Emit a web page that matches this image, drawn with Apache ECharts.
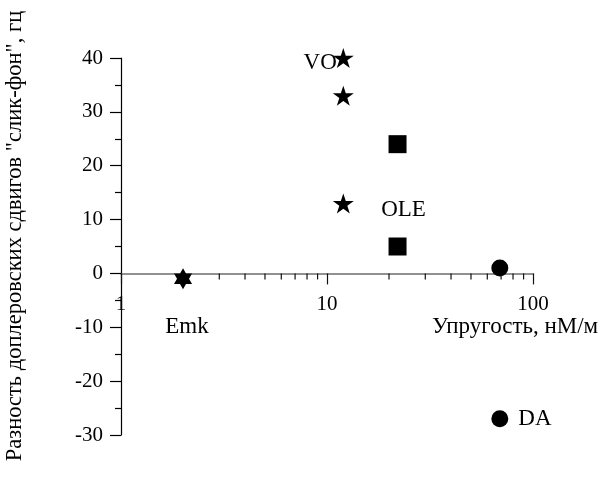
<!DOCTYPE html>
<html>
<head>
<meta charset="utf-8">
<script src="https://cdn.jsdelivr.net/npm/echarts@6/dist/echarts.min.js"></script>
<style>
  html, body { margin: 0; padding: 0; background: #fff; }
  #chart { width: 600px; height: 483px; }
</style>
</head>
<body>
<div id="chart"></div>
<script>
// Elasticity (nM/m) vs. slick-background Doppler shift difference (Hz)
const voX = [12, 12, 12];
const voY = [40, 33, 13];
const emkX = [2];
const emkY = [-1];
const oleX = [22, 22];
const oleY = [24, 5];
const daX = [69, 69];
const daY = [1, -27];

const xMin = 1;
const xMax = 100;
const yMin = -30;
const yMax = 40;
const yStep = 10;
const xMinorTicks = [2, 3, 4, 5, 6, 7, 8, 9, 20, 30, 40, 50, 60, 70, 80, 90];

const xTitle = 'Упругость, нМ/м';
const yTitle = 'Разность доплеровских сдвигов "слик-фон", гц';

const FONT = '"Liberation Serif", "Times New Roman", serif';
const TICK_FS = 21;
const TEXT_FS = 23;

const STAR5 = 'path://M50 0 L61.23 34.55 L97.55 34.55 L68.17 55.9 L79.39 90.45 L50 69.1 L20.61 90.45 L31.83 55.9 L2.45 34.55 L38.77 34.55 Z';
const STAR6 = 'path://M50 0 L64.43 25 L93.3 25 L78.87 50 L93.3 75 L64.43 75 L50 100 L35.57 75 L6.7 75 L21.13 50 L6.7 25 L35.57 25 Z';

// plot area
const GRID = { left: 121, right: 67, top: 58, bottom: 48 };
const H = 483;
const gridHeight = H - GRID.top - GRID.bottom;
// shift the x axis (line, ticks, labels) up to the y = 0 level
const xAxisOffset = -gridHeight * (0 - yMin) / (yMax - yMin);

function pairs(xs, ys) {
  return xs.map((x, i) => [x, ys[i]]);
}

const labelStyle = { color: '#000', fontFamily: FONT, fontSize: TEXT_FS };

const voData = pairs(voX, voY).map((p, i) => i === 0
  ? { value: p, label: Object.assign({ show: true, formatter: 'VO', position: 'left', distance: -4, offset: [0, 5] }, labelStyle) }
  : { value: p });

const emkData = pairs(emkX, emkY).map(p => ({
  value: p,
  label: Object.assign({ show: true, formatter: 'Emk', position: 'bottom', distance: 26, offset: [4, 0] }, labelStyle)
}));

const oleData = pairs(oleX, oleY).map((p, i) => i === 1
  ? { value: p, label: Object.assign({ show: true, formatter: 'OLE', position: 'top', distance: 16, offset: [6, 0] }, labelStyle) }
  : { value: p });

const daData = pairs(daX, daY).map((p, i) => i === 1
  ? { value: p, label: Object.assign({ show: true, formatter: 'DA', position: 'right', distance: 10 }, labelStyle) }
  : { value: p });

const chart = echarts.init(document.getElementById('chart'), null, { renderer: 'canvas' });

const markerStyle = { color: '#000', opacity: 1 };

chart.setOption({
  animation: false,
  backgroundColor: '#fff',
  grid: Object.assign({ containLabel: false }, GRID),
  xAxis: {
    type: 'log',
    logBase: 10,
    min: xMin,
    max: xMax,
    position: 'bottom',
    offset: xAxisOffset,
    axisLine: { onZero: false, lineStyle: { color: '#6e6e6e', width: 1.5 } },
    axisTick: { show: true, length: 11, lineStyle: { color: '#111', width: 1.2 } },
    axisLabel: { color: '#000', fontFamily: FONT, fontSize: TICK_FS, margin: 21 },
    splitLine: { show: false }
  },
  yAxis: {
    type: 'value',
    min: yMin,
    max: yMax,
    interval: yStep,
    axisLine: { show: true, onZero: false, lineStyle: { color: '#000', width: 1.2 } },
    axisTick: { show: true, length: 11, lineStyle: { color: '#000', width: 1.2 } },
    minorTick: { show: true, splitNumber: 2, length: 6, lineStyle: { color: '#000', width: 1.2 } },
    axisLabel: { color: '#000', fontFamily: FONT, fontSize: TICK_FS, margin: 18 },
    splitLine: { show: false }
  },
  graphic: [
    {
      type: 'text',
      x: 15, y: 236,
      rotation: Math.PI / 2,
      style: { text: yTitle, fill: '#000', font: '22.5px ' + FONT, align: 'center', verticalAlign: 'middle' }
    },
    {
      type: 'text',
      x: 432, y: 327,
      style: { text: xTitle, fill: '#000', font: TEXT_FS + 'px ' + FONT, align: 'left', verticalAlign: 'middle' }
    }
  ],
  series: [
    {
      // minor ticks of the log axis, drawn below the zero line
      type: 'custom',
      silent: true,
      clip: false,
      data: xMinorTicks.map(v => [v, 0]),
      renderItem: function (params, api) {
        const p = api.coord([api.value(0), 0]);
        return {
          type: 'line',
          shape: { x1: p[0], y1: p[1], x2: p[0], y2: p[1] + 6 },
          style: { stroke: '#111', lineWidth: 1.2 }
        };
      },
      z: 1
    },
    {
      name: 'VO',
      type: 'scatter',
      symbol: STAR5,
      symbolSize: [21, 20],
      itemStyle: markerStyle,
      data: voData,
      z: 3
    },
    {
      name: 'Emk',
      type: 'scatter',
      symbol: STAR6,
      symbolSize: [18, 21],
      itemStyle: markerStyle,
      data: emkData,
      z: 3
    },
    {
      name: 'OLE',
      type: 'scatter',
      symbol: 'rect',
      symbolSize: 18,
      itemStyle: markerStyle,
      data: oleData,
      z: 3
    },
    {
      name: 'DA',
      type: 'scatter',
      symbol: 'circle',
      symbolSize: 17,
      itemStyle: markerStyle,
      data: daData,
      z: 3
    }
  ]
});
</script>
</body>
</html>
